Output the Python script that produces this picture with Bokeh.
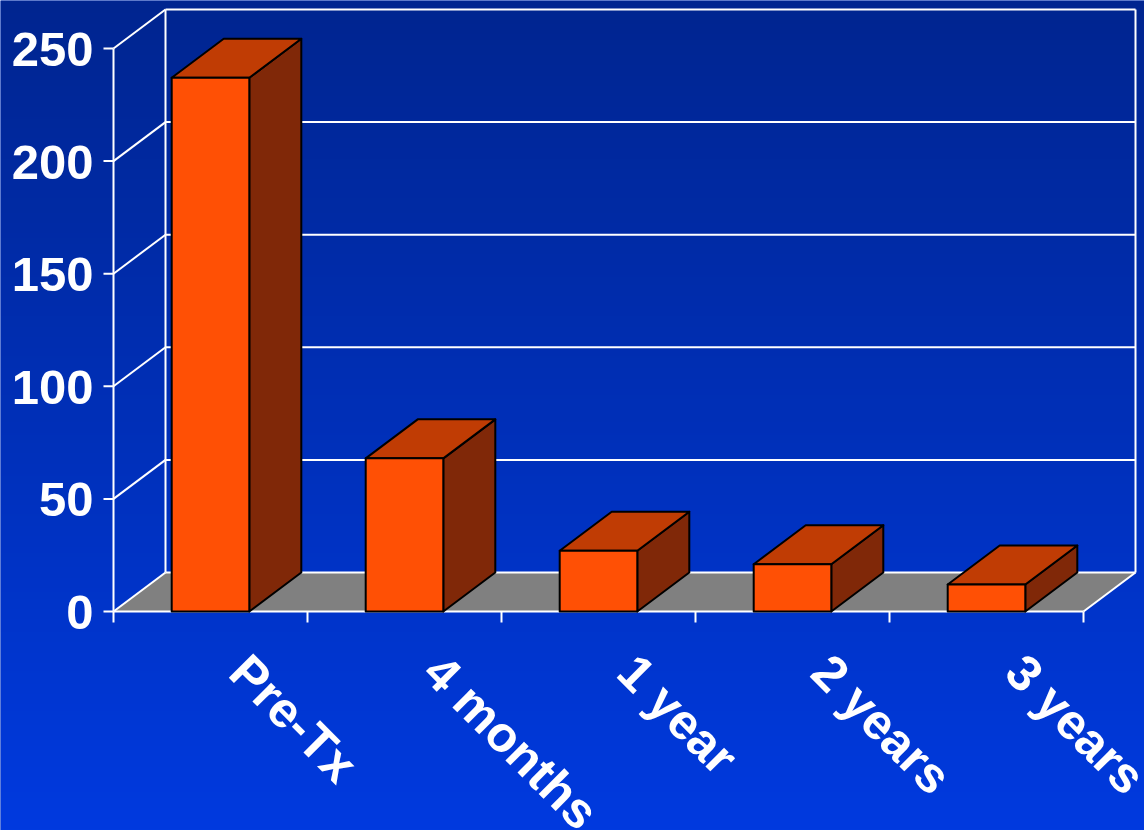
import numpy as np
from bokeh.plotting import figure
from bokeh.embed import file_html
from bokeh.resources import INLINE
from bokeh.core.properties import value

# ---- data ----
categories = ["Pre-Tx", "4 months", "1 year", "2 years", "3 years"]
values = [237, 68, 27, 21, 12]
y_ticks = [0, 50, 100, 150, 200, 250]

# ---- layout constants (pixels) ----
W, H = 1144, 830
AX_X = 113.0          # pixel x of front y-axis
CAT_PX = 194.0        # pixels per category
Y0_PX = 611.0         # pixel y of value 0 (front)
PX_PER_UNIT = 2.252   # pixels per value unit
DEPTH_X_PX, DEPTH_Y_PX = 52.0, 39.0

n = len(categories)
ymax = y_ticks[-1]
DX = DEPTH_X_PX / CAT_PX
DY = DEPTH_Y_PX / PX_PER_UNIT

x_start = -AX_X / CAT_PX
x_end = (W - AX_X) / CAT_PX
y_start = (Y0_PX - H) / PX_PER_UNIT
y_end = Y0_PX / PX_PER_UNIT

p = figure(width=W, height=H, x_range=(x_start, x_end), y_range=(y_start, y_end),
           x_axis_type=None, y_axis_type=None, toolbar_location=None,
           output_backend="svg", min_border=0, outline_line_color=None)
p.grid.visible = False
p.background_fill_color = "#0030c0"
p.border_fill_color = "#0030c0"

# ---- background gradient ----
rows = 400
t = np.linspace(0, 1, rows)  # 0 bottom -> 1 top
bottom = np.array([0, 58, 223])
top = np.array([0, 37, 144])
cols = (bottom[None, :] * (1 - t[:, None]) + top[None, :] * t[:, None]).astype(np.uint8)
img = np.empty((rows, 1), dtype=np.uint32)
view = img.view(dtype=np.uint8).reshape((rows, 1, 4))
view[:, 0, 0] = cols[:, 0]
view[:, 0, 1] = cols[:, 1]
view[:, 0, 2] = cols[:, 2]
view[:, 0, 3] = 255
p.image_rgba(image=[img], x=x_start, y=y_start, dw=x_end - x_start, dh=y_end - y_start)

WHITE = "white"
LW = 2

# ---- floor ----
p.patch([0, n, n + DX, DX], [0, 0, DY, DY], fill_color="#808080", line_color=None)

# ---- back wall gridlines and left wall diagonals ----
p.segment(x0=[DX] * len(y_ticks), y0=[v + DY for v in y_ticks],
          x1=[n + DX] * len(y_ticks), y1=[v + DY for v in y_ticks],
          line_color=WHITE, line_width=LW)
p.segment(x0=[0] * len(y_ticks), y0=y_ticks,
          x1=[DX] * len(y_ticks), y1=[v + DY for v in y_ticks],
          line_color=WHITE, line_width=LW)
# back wall verticals
p.segment(x0=[DX, n + DX], y0=[DY, DY], x1=[DX, n + DX], y1=[ymax + DY, ymax + DY],
          line_color=WHITE, line_width=LW)
# floor right edge
p.segment(x0=[n], y0=[0], x1=[n + DX], y1=[DY], line_color=WHITE, line_width=LW)
# front axes
p.segment(x0=[0, 0], y0=[0, 0], x1=[0, n], y1=[ymax, 0], line_color=WHITE, line_width=LW)
# y ticks
tick_len_x = 10.0 / CAT_PX
p.segment(x0=[-tick_len_x] * len(y_ticks), y0=y_ticks, x1=[0] * len(y_ticks), y1=y_ticks,
          line_color=WHITE, line_width=LW)
# x ticks (category boundaries)
tick_len_y = 11.0 / PX_PER_UNIT
xb = list(range(n + 1))
p.segment(x0=xb, y0=[0] * len(xb), x1=xb, y1=[-tick_len_y] * len(xb),
          line_color=WHITE, line_width=LW)

# ---- 3D bars ----
bw = 0.4
front_x, front_y, top_x, top_y, side_x, side_y = [], [], [], [], [], []
for i, v in enumerate(values):
    l = i + 0.5 - bw / 2
    r = i + 0.5 + bw / 2
    front_x.append([l, r, r, l]); front_y.append([0, 0, v, v])
    top_x.append([l, r, r + DX, l + DX]); top_y.append([v, v, v + DY, v + DY])
    side_x.append([r, r + DX, r + DX, r]); side_y.append([0, DY, v + DY, v])

p.patches(side_x, side_y, fill_color="#802808", line_color="black", line_width=2, line_join="round")
p.patches(top_x, top_y, fill_color="#c03c04", line_color="black", line_width=2, line_join="round")
p.patches(front_x, front_y, fill_color="#ff5005", line_color="black", line_width=2, line_join="round")

# ---- tick labels ----
FONT = value("Liberation Sans")
p.text(x=[0] * len(y_ticks), y=y_ticks, text=[str(v) for v in y_ticks],
       x_offset=-20, y_offset=1, text_align="right", text_baseline="middle",
       text_color="white", text_font=FONT, text_font_style="bold", text_font_size="49px")

p.text(x=[i + 0.5 for i in range(n)], y=[0] * n, text=categories,
       angle=-np.pi / 4, x_offset=28, y_offset=52, text_align="left",
       text_baseline="alphabetic", text_color="white", text_font=FONT,
       text_font_style="bold", text_font_size="50px")

open("out.html", "w").write(file_html(p, INLINE))
